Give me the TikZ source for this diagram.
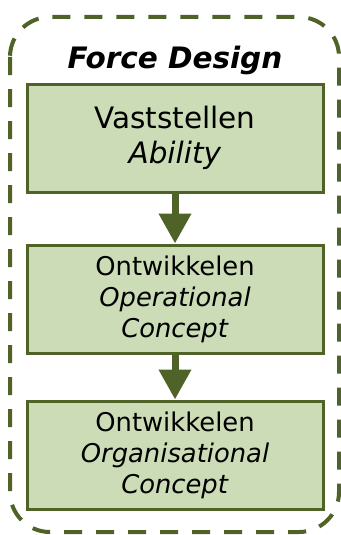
\documentclass[tikz,border=0pt]{standalone}
\usepackage{fontspec}
\setmainfont{DejaVu Sans}
\usetikzlibrary{arrows.meta}
\definecolor{darkolive}{RGB}{79,98,40}
\definecolor{lightolive}{RGB}{203,220,182}
\tikzset{
  stepbox/.style={rectangle,draw=darkolive,fill=lightolive,line width=3pt,
    minimum width=296pt,minimum height=108pt,align=center,inner sep=0pt},
  flow/.style={draw=darkolive,line width=7pt,
    -{Triangle[width=31pt,length=30pt,fill=darkolive]}},
  frame/.style={draw=darkolive,line width=4pt,dash pattern=on 18pt off 14pt,
    rounded corners=40pt}
}
\begin{document}
\begin{tikzpicture}[x=1pt,y=-1pt]
\useasboundingbox (0,0) rectangle (340,535);
\draw[frame] (10,17) rectangle (339,532);
\node[font=\fontsize{29.5}{34}\selectfont\bfseries\itshape] (title) at (175,60) {Force Design};
\node[stepbox,font=\fontsize{29.5}{35}\selectfont] (vaststellen) at (175,138) {Vaststellen\\\textit{Ability}};
\node[stepbox,font=\fontsize{25.8}{31}\selectfont] (operational) at (175,299) {Ontwikkelen\\\textit{Operational}\\\textit{Concept}};
\node[stepbox,font=\fontsize{25.8}{31}\selectfont] (organisational) at (175,455) {Ontwikkelen\\\textit{Organisational}\\\textit{Concept}};
\draw[flow] (vaststellen) -- (operational);
\draw[flow] (operational) -- (organisational);
\end{tikzpicture}
\end{document}
